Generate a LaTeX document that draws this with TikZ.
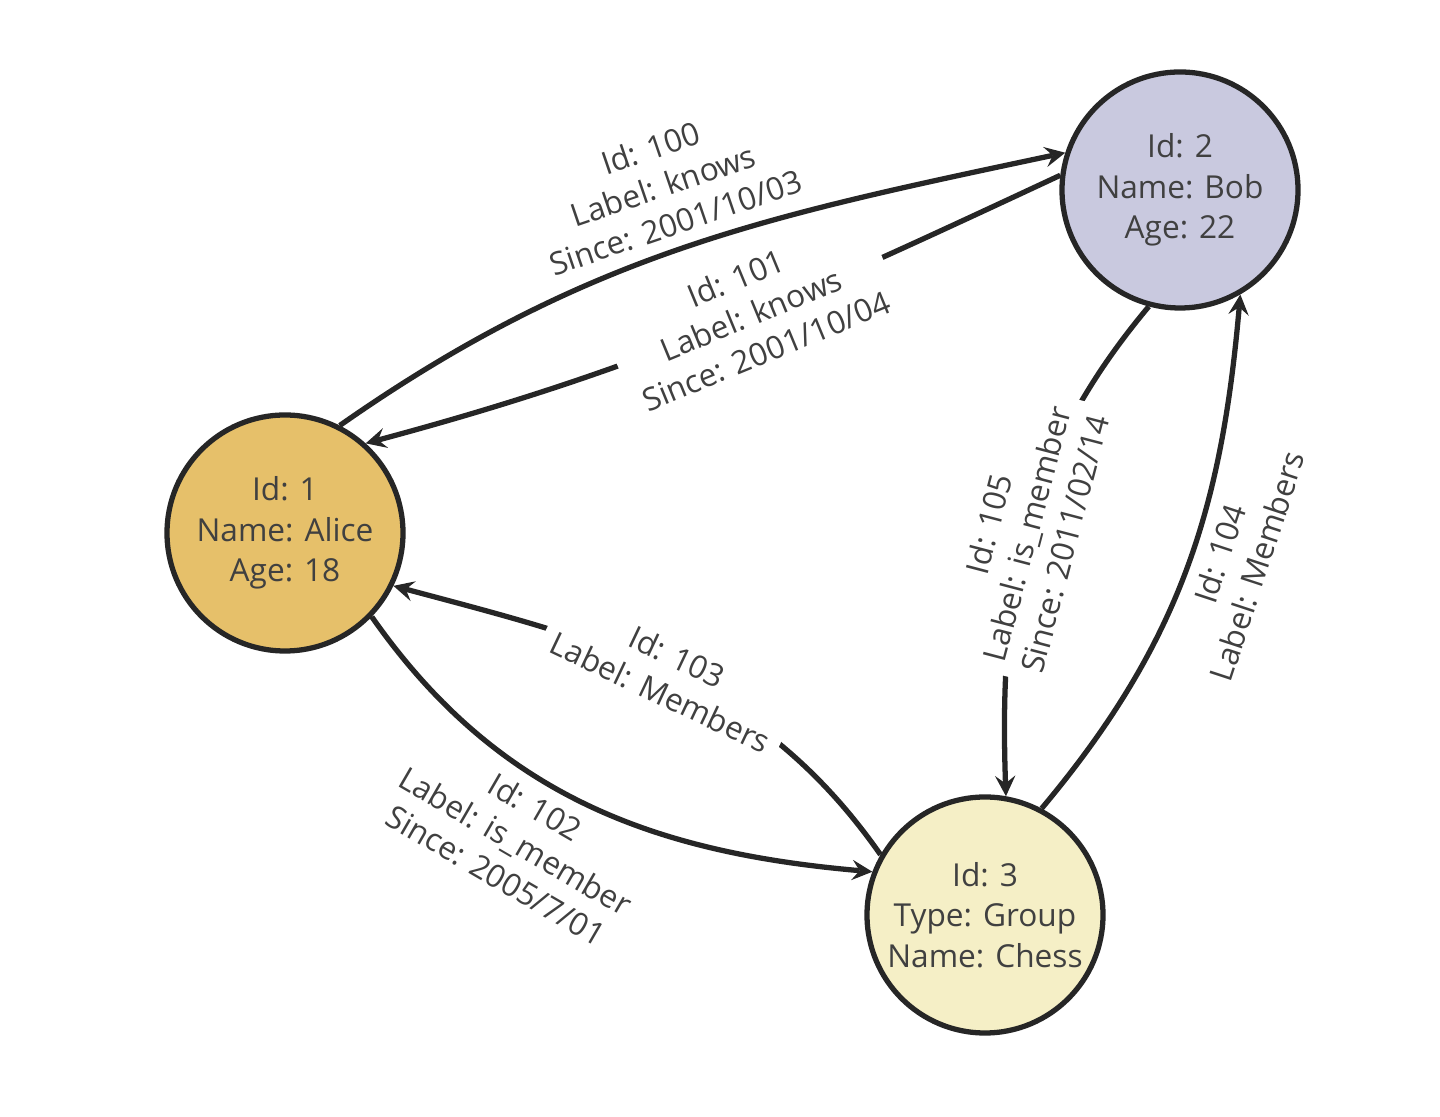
\documentclass[tikz,border=0pt]{standalone}
\usepackage{fontspec}
\setmainfont{Open Sans}
\usepackage{xcolor}
\usetikzlibrary{positioning}
\definecolor{alicecol}{HTML}{E6C06A}
\definecolor{bobcol}{HTML}{C9C9DF}
\definecolor{chesscol}{HTML}{F5EFC6}
\tikzset{
  vertex/.style={draw=black!85, line width=1.5pt, circle, minimum size=2.36cm,
    inner sep=0pt, align=center, font=\fontsize{9}{11.6}\selectfont, text=black!75},
  edge/.style={->, line width=1.5pt, draw=black!85},
  elabel/.style={sloped, align=center, font=\fontsize{9}{11.2}\selectfont, text=black!75},
  gaplabel/.style={elabel, fill=white, inner sep=3pt}
}
\begin{document}
\begin{tikzpicture}[>=stealth]
  \useasboundingbox (0,0) rectangle (14.4,11.17);

  % the three vertices
  \node [vertex, fill=alicecol] (alice) at (2.85,5.84) {Id: 1\\Name: Alice\\Age: 18};
  \node [vertex, fill=bobcol] (bob) at (11.80,9.27) {Id: 2\\Name: Bob\\Age: 22};
  \node [vertex, fill=chesscol] (chess) at (9.85,2.02) {Id: 3\\Type: Group\\Name: Chess};

  % knows edges
  \draw [edge] (alice.63) to[out=35, in=192]
    node [elabel, above, pos=0.5] {Id: 100\\Label: knows\\Since: 2001/10/03} (bob.162);
  \draw [edge] (bob.173) to[out=205, in=15]
    node [gaplabel, pos=0.45] {Id: 101\\Label: knows\\Since: 2001/10/04} (alice.48);

  % member edges
  \draw [edge] (alice.-44) to[out=-55, in=175]
    node [elabel, below, pos=0.42] {Id: 102\\Label: is\_member\\Since: 2005/7/01} (chess.159);
  \draw [edge] (chess.150) to[out=125, in=-15]
    node [gaplabel, pos=0.5] {Id: 103\\Label: Members} (alice.-26);
  \draw [edge] (chess.62) to[out=50, in=-95]
    node [elabel, below, pos=0.55] {Id: 104\\Label: Members} (bob.-60);
  \draw [edge] (bob.-105) to[out=230, in=92]
    node [gaplabel, pos=0.5] {Id: 105\\Label: is\_member\\Since: 2011/02/14} (chess.80);
\end{tikzpicture}
\end{document}
